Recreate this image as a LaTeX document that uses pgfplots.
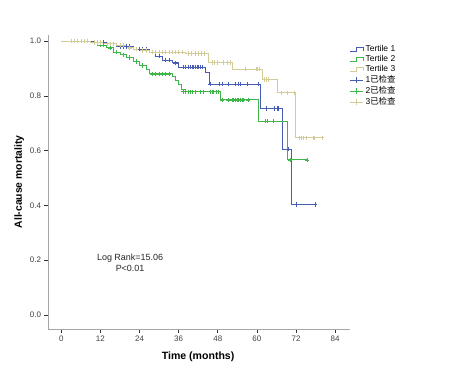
\documentclass[border=0pt]{standalone}
\usepackage{pgfplots}
\pgfplotsset{compat=1.18}
\usepackage{pgfplotstable}
\usepackage{fontspec}
\setmainfont{Liberation Sans}
\newfontfamily\cjk{Noto Sans CJK SC}
\definecolor{tone}{RGB}{70,92,182}
\definecolor{ttwo}{RGB}{62,182,72}
\definecolor{tthree}{RGB}{212,204,152}

\pgfplotstableread{
t s
0 1.0
10 0.995
14 0.99
17 0.98
22 0.97
27 0.96
29 0.945
31 0.93
34 0.92
36 0.905
44.1 0.885
45.3 0.843
61.0 0.754
67.8 0.605
70.7 0.404
78 0.404
}\tone

\pgfplotstableread{
t s
0 1.0
9 0.995
11 0.985
14 0.975
16 0.96
18 0.95
20 0.94
22 0.925
24 0.91
26 0.895
27 0.88
34 0.87
35 0.855
36 0.84
37 0.825
38 0.815
48.7 0.785
60.6 0.708
69.3 0.566
75.6 0.566
}\ttwo

\pgfplotstableread{
t s
0 1.0
9 0.995
13 0.99
17 0.985
20 0.975
22 0.97
24 0.965
27 0.96
38 0.955
45 0.922
52.4 0.897
61.6 0.86
66.4 0.811
71.9 0.647
80.2 0.647
}\tthree

\pgfplotstableread{
t s
11 0.995
12 0.995
13 0.995
15 0.99
16 0.99
18 0.98
19 0.98
20 0.98
21 0.98
23 0.97
24 0.97
25 0.97
26 0.97
28 0.96
30 0.945
32 0.93
33 0.93
35 0.92
37.4 0.905
38.2 0.905
38.9 0.905
39.5 0.905
40.1 0.905
40.6 0.905
41.0 0.905
41.6 0.905
42.0 0.905
42.6 0.905
43.2 0.905
45.6 0.843
48.4 0.843
49.3 0.843
51.1 0.843
53.3 0.843
54.2 0.843
54.8 0.843
57.0 0.843
60.3 0.843
62.8 0.754
65.5 0.754
66.2 0.754
66.5 0.754
69.8 0.605
72.2 0.404
77.8 0.404
}\cone

\pgfplotstableread{
t s
3 1.0
5 1.0
6 1.0
7 1.0
8 1.0
10 0.995
12 0.985
13 0.985
15 0.975
17 0.96
19 0.95
21 0.94
23 0.925
25 0.91
28 0.88
29 0.88
30 0.88
31 0.88
32 0.88
33 0.88
37.5 0.815
38.2 0.815
38.9 0.815
39.5 0.815
40.3 0.815
41.2 0.815
42.6 0.815
43.5 0.815
45.6 0.815
46.2 0.815
46.5 0.815
47.7 0.815
48.3 0.815
49.3 0.785
51.1 0.785
52.4 0.785
52.7 0.785
53.3 0.785
53.9 0.785
54.2 0.785
54.8 0.785
55.4 0.785
55.7 0.785
57.3 0.785
62.5 0.708
63.1 0.708
65.0 0.708
70.2 0.566
75.4 0.566
}\ctwo

\pgfplotstableread{
t s
3 1.0
4 1.0
5 1.0
6 1.0
7 1.0
8 1.0
10 0.995
11 0.995
12 0.995
14 0.99
15 0.99
16 0.99
18 0.985
19 0.985
21 0.975
23 0.97
25 0.965
26 0.965
28 0.96
29 0.96
30 0.96
31 0.96
32 0.96
33 0.96
34 0.96
35 0.96
36 0.96
37 0.96
39 0.955
40 0.955
41 0.955
42 0.955
43 0.955
44 0.955
46.2 0.922
47.1 0.922
47.8 0.922
49.6 0.922
50.8 0.922
51.8 0.922
56.4 0.897
59.7 0.897
60.0 0.897
60.6 0.897
62.2 0.86
62.8 0.86
63.4 0.86
67.4 0.811
69.2 0.811
71.4 0.811
72.9 0.647
73.5 0.647
74.1 0.647
75.1 0.647
77.2 0.647
77.5 0.647
80.0 0.647
}\cthree

\pgfplotsset{
  kmstep/.style={legend image code/.code={\draw[draw=#1, line width=0.9pt] (0bp,-1.8bp) -- (6bp,-1.8bp) -- (6bp,2bp) -- (13bp,2bp) -- (13bp,-1.8bp);}},
  kmcens/.style={legend image code/.code={\draw[draw=#1, line width=0.7pt] (0bp,0bp) -- (13bp,0bp) (6.5bp,-3bp) -- (6.5bp,3bp);}},
}

\begin{document}
\begin{tikzpicture}
\begin{axis}[
  scale only axis,
  width=302bp, height=294bp,
  xmin=-4.08, xmax=88.56,
  ymin=-0.051, ymax=1.022,
  axis x line*=bottom, axis y line*=left,
  axis line style={-, draw=gray!70, line width=0.8pt},
  xtick={0,12,...,84},
  ytick={0,0.2,...,1.0},
  yticklabel style={/pgf/number format/.cd, fixed, fixed zerofill, precision=1},
  /pgf/number format/assume math mode=true,
  tick align=outside,
  major tick length=3.5bp,
  tick style={draw=black!80, line width=0.6pt},
  ticklabel style={font=\fontsize{8}{9.5}\selectfont, text=black!75},
  xlabel={\bfseries Time (months)},
  ylabel={\bfseries All-cause mortality},
  xlabel style={font=\fontsize{10.6}{12}\selectfont, at={(axis description cs:0.497,-0.095)}, anchor=center},
  ylabel style={font=\fontsize{10.4}{12}\selectfont, at={(axis description cs:-0.095,0.5)}, anchor=center},
  legend style={at={(0.995,0.975)}, anchor=north west, draw=none, fill=none,
    font=\fontsize{8.5}{10}\selectfont, row sep=-1.6bp, inner sep=1pt},
  legend cell align=left,
  clip=false,
]
\addplot[const plot, draw=tone, line width=0.9pt, kmstep=tone] table[x=t,y=s]{\tone};
\addlegendentry{Tertile 1}
\addplot[const plot, draw=ttwo, line width=0.9pt, kmstep=ttwo] table[x=t,y=s]{\ttwo};
\addlegendentry{Tertile 2}
\addplot[const plot, draw=tthree, line width=0.9pt, kmstep=tthree] table[x=t,y=s]{\tthree};
\addlegendentry{Tertile 3}
\addplot[only marks, mark=+, mark size=2.2bp, draw=tone, mark options={line width=0.7pt}, kmcens=tone] table[x=t,y=s]{\cone};
\addlegendentry{1{\cjk 已检查}}
\addplot[only marks, mark=+, mark size=2.2bp, draw=ttwo, mark options={line width=0.7pt}, kmcens=ttwo] table[x=t,y=s]{\ctwo};
\addlegendentry{2{\cjk 已检查}}
\addplot[only marks, mark=+, mark size=2.2bp, draw=tthree, mark options={line width=0.7pt}, kmcens=tthree] table[x=t,y=s]{\cthree};
\addlegendentry{3{\cjk 已检查}}
\node[font=\fontsize{9}{10.5}\selectfont, align=center, text=black!85] at (axis cs:21.1,0.19) {Log Rank=15.06\\P<0.01};
\end{axis}
\pgfresetboundingbox
\path (-48bp,-46bp) rectangle (421bp,329bp);
\end{tikzpicture}
\end{document}
